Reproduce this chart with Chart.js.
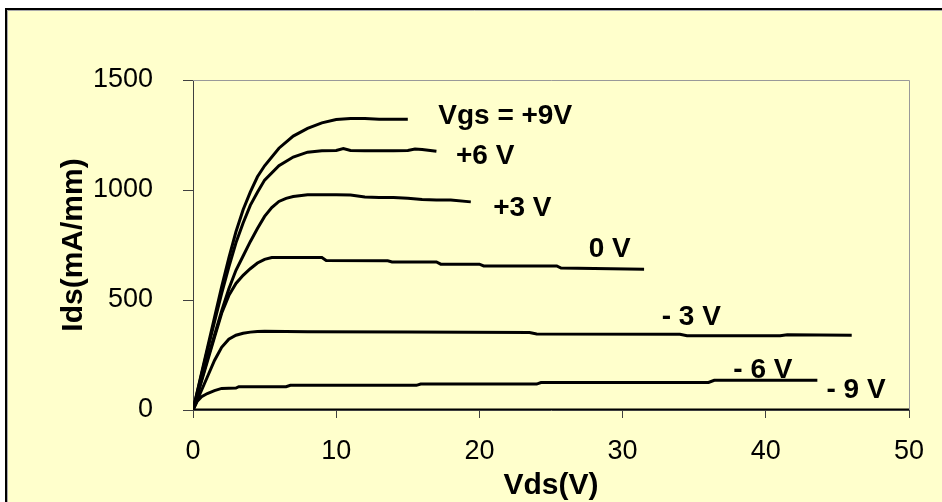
<!DOCTYPE html>
<html>
<head>
<meta charset="utf-8">
<script src="https://cdn.jsdelivr.net/npm/chart.js@4.4.0/dist/chart.umd.min.js"></script>
<style>
    html, body { margin: 0; padding: 0; background: #fff; overflow: hidden; }
    #wrap { width: 942px; height: 502px; }
</style>
</head>
<body>
<div id="wrap"><canvas id="ivChart" width="942" height="502"></canvas></div>
<script>
// Ids-Vds curves, one pair of arrays per gate voltage
const vds9 = [0, 0.5, 1, 1.5, 2, 2.5, 3, 3.5, 4, 4.5, 5, 6, 7, 8, 9, 10, 11, 12, 13, 14, 15];
const ids9 = [0, 140, 280, 420, 560, 690, 810, 910, 990, 1060, 1110, 1190, 1245, 1280, 1305, 1320, 1325, 1325, 1322, 1322, 1322];

const vds6 = [0, 0.5, 1, 1.5, 2, 2.5, 3, 3.5, 4, 4.5, 5, 6, 7, 8, 9, 10, 10.5, 11, 12, 13, 14, 15, 15.5, 16, 17];
const ids6 = [0, 135, 270, 400, 530, 650, 760, 850, 930, 990, 1045, 1110, 1150, 1172, 1178, 1180, 1188, 1180, 1178, 1178, 1178, 1180, 1186, 1184, 1176];

const vds3 = [0, 0.5, 1, 1.5, 2, 2.5, 3, 3.5, 4, 4.5, 5, 5.5, 6, 6.5, 7, 8, 9, 10, 11, 12, 13, 14, 15, 16, 17, 18, 19.4];
const ids3 = [0, 115, 230, 340, 450, 550, 635, 700, 765, 825, 880, 920, 948, 962, 970, 978, 978, 978, 977, 968, 966, 966, 962, 957, 955, 954, 946];

const vds0 = [0, 0.5, 1, 1.5, 2, 2.5, 3, 3.5, 4, 4.5, 5, 5.5, 9, 9.3, 13.6, 13.9, 17, 17.3, 20, 20.3, 25.4, 25.7, 31.5];
const ids0 = [0, 110, 220, 330, 440, 520, 575, 612, 642, 668, 685, 693, 693, 680, 678, 673, 673, 663, 663, 655, 655, 645, 640];

const vdsM3 = [0, 0.5, 1, 1.5, 2, 2.5, 3, 3.5, 4, 4.5, 5, 8, 15, 23.5, 24, 34, 34.5, 41, 41.5, 46];
const idsM3 = [0, 75, 150, 225, 285, 322, 340, 349, 354, 357, 358, 356, 354, 352, 346, 344, 338, 338, 342, 340];

const vdsM6 = [0, 0.3, 0.6, 1, 1.5, 2, 3, 3.2, 6.5, 6.8, 15.6, 15.9, 24, 24.3, 36, 36.4, 43.6];
const idsM6 = [0, 40, 60, 75, 88, 98, 100, 106, 106, 112, 112, 118, 118, 125, 125, 135, 135];

const vdsM9 = [0, 50];
const idsM9 = [0, 0];

// curve labels, placed in data units
const curveLabels = ['Vgs = +9V', '+6 V', '+3 V', '0 V', '- 3 V', '- 6 V', '- 9 V'];
const labelVds = [21.8, 20.4, 23.0, 29.1, 34.8, 39.8, 46.3];
const labelIds = [1336, 1154, 918, 731, 422, 181, 90];

const xTicks = [0, 10, 20, 30, 40, 50];
const yTicks = [0, 500, 1000, 1500];

const toPoints = (xs, ys) => xs.map((x, i) => ({ x: x, y: ys[i] }));
const curves = [
    [vds9, ids9], [vds6, ids6], [vds3, ids3], [vds0, ids0],
    [vdsM3, idsM3], [vdsM6, idsM6], [vdsM9, idsM9]
];

const FONT = "'Liberation Sans', Arial, sans-serif";

// yellow panel with black frame behind everything, plot box and curve labels on top
const decorPlugin = {
    id: 'decor',
    beforeDraw(chart) {
        const ctx = chart.ctx;
        ctx.save();
        ctx.fillStyle = '#ffffff';
        ctx.fillRect(0, 0, chart.width, chart.height);
        ctx.fillStyle = '#ffffcc';
        ctx.fillRect(6, 9, chart.width, chart.height);
        ctx.strokeStyle = '#000';
        ctx.lineWidth = 2;
        ctx.beginPath();
        ctx.moveTo(6, chart.height);
        ctx.lineTo(6, 9);
        ctx.lineTo(chart.width, 9);
        ctx.stroke();
        ctx.strokeStyle = '#aaa';
        ctx.lineWidth = 1;
        ctx.beginPath();
        ctx.moveTo(7.5, chart.height);
        ctx.lineTo(7.5, 10.5);
        ctx.lineTo(chart.width, 10.5);
        ctx.stroke();
        ctx.restore();
    },
    beforeDatasetsDraw(chart) {
        const a = chart.chartArea;
        const ctx = chart.ctx;
        ctx.save();
        ctx.strokeStyle = '#999';
        ctx.lineWidth = 1;
        ctx.beginPath();
        ctx.moveTo(a.left, a.top + 0.5);
        ctx.lineTo(a.right + 0.5, a.top + 0.5);
        ctx.lineTo(a.right + 0.5, a.bottom);
        ctx.stroke();
        ctx.restore();
    },
    afterDatasetsDraw(chart) {
        const ctx = chart.ctx;
        const xs = chart.scales.x, ys = chart.scales.y;
        ctx.save();
        ctx.fillStyle = '#000';
        ctx.font = "bold 28px " + FONT;
        ctx.textAlign = 'center';
        ctx.textBaseline = 'middle';
        curveLabels.forEach((t, i) => {
            ctx.fillText(t, xs.getPixelForValue(labelVds[i]), ys.getPixelForValue(labelIds[i]));
        });
        ctx.restore();
    }
};

new Chart(document.getElementById('ivChart'), {
    type: 'scatter',
    data: {
        datasets: curves.map(c => ({
            data: toPoints(c[0], c[1]),
            showLine: true,
            borderColor: '#000',
            borderWidth: 3,
            pointRadius: 0,
            tension: 0
        }))
    },
    options: {
        responsive: false,
        animation: false,
        layout: { padding: { left: 0, top: 80, right: 33, bottom: 0 } },
        plugins: { legend: { display: false }, tooltip: { enabled: false } },
        scales: {
            x: {
                type: 'linear', min: 0, max: 50,
                afterFit: s => { s.height = 92; },
                afterBuildTicks: s => { s.ticks = xTicks.map(v => ({ value: v })); },
                grid: { drawOnChartArea: false, drawTicks: true, tickLength: 8, color: '#404040' },
                border: { display: true, color: '#404040', width: 1 },
                ticks: { color: '#000', font: { family: FONT, size: 27 }, padding: 17, maxRotation: 0, callback: v => String(v) },
                title: { display: true, text: 'Vds(V)', color: '#000', font: { family: FONT, size: 30, weight: 'bold', lineHeight: 1.1 }, padding: { top: 0, bottom: 0 } }
            },
            y: {
                type: 'linear', min: 0, max: 1500,
                afterFit: s => { s.width = 193; },
                afterBuildTicks: s => { s.ticks = yTicks.map(v => ({ value: v })); },
                grid: { drawOnChartArea: false, drawTicks: true, tickLength: 10, color: '#404040' },
                border: { display: true, color: '#404040', width: 1 },
                ticks: { color: '#000', font: { family: FONT, size: 27 }, padding: 30, callback: v => String(v) },
                title: { display: true, text: 'Ids(mA/mm)', color: '#000', font: { family: FONT, size: 30, weight: 'bold', lineHeight: 1.1 }, padding: { top: 57, bottom: 0 } }
            }
        }
    },
    plugins: [decorPlugin]
});
</script>
</body>
</html>
